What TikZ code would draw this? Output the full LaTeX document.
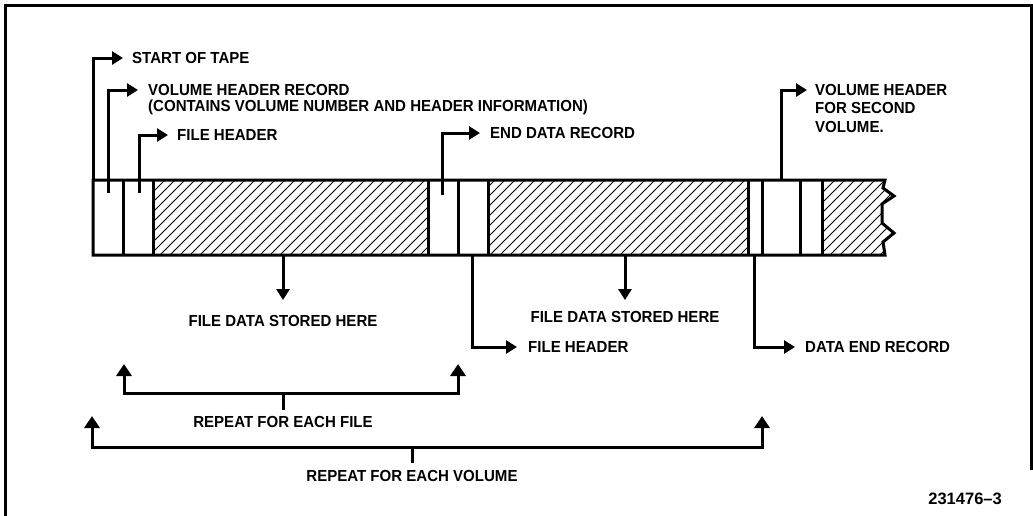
\documentclass[tikz,border=0pt]{standalone}
\usepackage{fontspec}
\setmainfont{Liberation Sans}[FakeStretch=0.94]
\newfontfamily\numfont{Liberation Sans}
\usetikzlibrary{arrows.meta,calc}

\tikzset{
  lbl/.style={inner sep=0pt, text height=11.5pt, text depth=0pt,
    font=\fontsize{16}{18}\selectfont\bfseries},
  lead/.style={line width=3pt, line cap=butt, line join=miter},
  tip/.style={-{Triangle[length=11pt,width=13pt]}},
  uptip/.style={-{Triangle[length=12pt,width=15pt]}},
  tapeline/.style={line width=3pt, line join=miter},
  hatch/.style={line width=0.9pt},
  frame/.style={line width=3pt}
}

\begin{document}
\begin{tikzpicture}[x=1pt,y=-1pt]
\useasboundingbox (0,0) rectangle (1033,515);

% outer frame (bottom edge runs off the sheet)
\draw[frame] (5,530) -- (5,5) -- (1031,5) -- (1031,470);

% ---- hatched data blocks ----
\begin{scope}
  \clip (153,180) rectangle (428,255);
  \foreach \k in {70,80,...,430} \draw[hatch] (\k,255) -- ++(75,-75);
\end{scope}
\begin{scope}
  \clip (488,180) rectangle (748,255);
  \foreach \k in {410,420,...,750} \draw[hatch] (\k,255) -- ++(75,-75);
\end{scope}
\begin{scope}
  \clip (822,180) -- (885,180) -- (883,188) -- (894,196) -- (882,204)
        -- (882,223) -- (894,233) -- (883,242) -- (885,255) -- (822,255) -- cycle;
  \foreach \k in {740,750,...,900} \draw[hatch] (\k,255) -- ++(75,-75);
\end{scope}

% ---- tape outline with torn right end ----
\draw[tapeline] (93,180) -- (885,180) -- (883,188) -- (894,196) -- (882,204)
      -- (882,223) -- (894,233) -- (883,242) -- (885,255) -- (93,255) -- cycle;

% record dividers
\foreach \x in {123,153,428,458,488,748,762,800,822}
  \draw[tapeline] (\x,180) -- (\x,255);

% ---- points on the tape where the leaders start ----
\coordinate (sot)  at (93,180);
\coordinate (vhr)  at (108,193);
\coordinate (fh1)  at (139,193);
\coordinate (edr)  at (442,195);
\coordinate (vh2)  at (781,180);
\coordinate (fd1)  at (283,255);
\coordinate (fd2)  at (625,255);
\coordinate (fh2)  at (472,255);
\coordinate (der)  at (754,255);

% ---- labels ----
\node[lbl, anchor=west] (tSot)  at (132,58)  {START OF TAPE};
\node[lbl, anchor=west] (tVhr)  at (148,90)  {VOLUME HEADER RECORD};
\node[lbl, anchor=west] (tVhrB) at (148,106) {(CONTAINS VOLUME NUMBER AND HEADER INFORMATION)};
\node[lbl, anchor=west] (tFh1)  at (177,135) {FILE HEADER};
\node[lbl, anchor=west] (tEdr)  at (490,133) {END DATA RECORD};
\node[lbl, anchor=west] (tVh2)  at (815,90)  {VOLUME HEADER};
\node[lbl, anchor=west] (tVh2B) at (815,108) {FOR SECOND};
\node[lbl, anchor=west] (tVh2C) at (815,127) {VOLUME.};
\node[lbl] (tFd1) at (283,321) {FILE DATA STORED HERE};
\node[lbl] (tFd2) at (625,317) {FILE DATA STORED HERE};
\node[lbl, anchor=west] (tFh2) at (528,347) {FILE HEADER};
\node[lbl, anchor=west] (tDer) at (805,347) {DATA END RECORD};
\node[lbl] (tRf) at (283,422) {REPEAT FOR EACH FILE};
\node[lbl] (tRv) at (412,476) {REPEAT FOR EACH VOLUME};
\node[inner sep=0pt, text height=12pt, text depth=0pt, anchor=east,
      font=\numfont\fontsize{16.5}{18}\selectfont\bfseries] (fig) at (1002,498) {231476–3};

% ---- leaders ----
\draw[lead,tip] (sot) |- ([xshift=-9pt]tSot.west);
\draw[lead,tip] (vhr) |- ([xshift=-10pt]tVhr.west);
\draw[lead,tip] (fh1) |- ([xshift=-9pt]tFh1.west);
\draw[lead,tip] (edr) |- ([xshift=-10pt]tEdr.west);
\draw[lead,tip] (vh2) |- ([xshift=-8pt]tVh2.west);
\draw[lead,tip] (fd1) -- ([yshift=15pt]tFd1.north);
\draw[lead,tip] (fd2) -- ([yshift=11pt]tFd2.north);
\draw[lead,tip] (fh2) |- ([xshift=-11pt]tFh2.west);
\draw[lead,tip] (der) |- ([xshift=-10pt]tDer.west);

% ---- repeat brackets ----
\coordinate (rfL) at (124,364);
\coordinate (rfR) at (458,364);
\coordinate (rfM) at (283,393);
\draw[lead,uptip] (rfM) -| (rfL);
\draw[lead,uptip] (rfM) -| (rfR);
\draw[lead] (rfM) -- ([yshift=6pt]tRf.north);

\coordinate (rvL) at (92,416);
\coordinate (rvR) at (762,416);
\coordinate (rvM) at (412,447);
\draw[lead,uptip] (rvM) -| (rvL);
\draw[lead,uptip] (rvM) -| (rvR);
\draw[lead] (rvM) -- ([yshift=7pt]tRv.north);
\end{tikzpicture}
\end{document}
